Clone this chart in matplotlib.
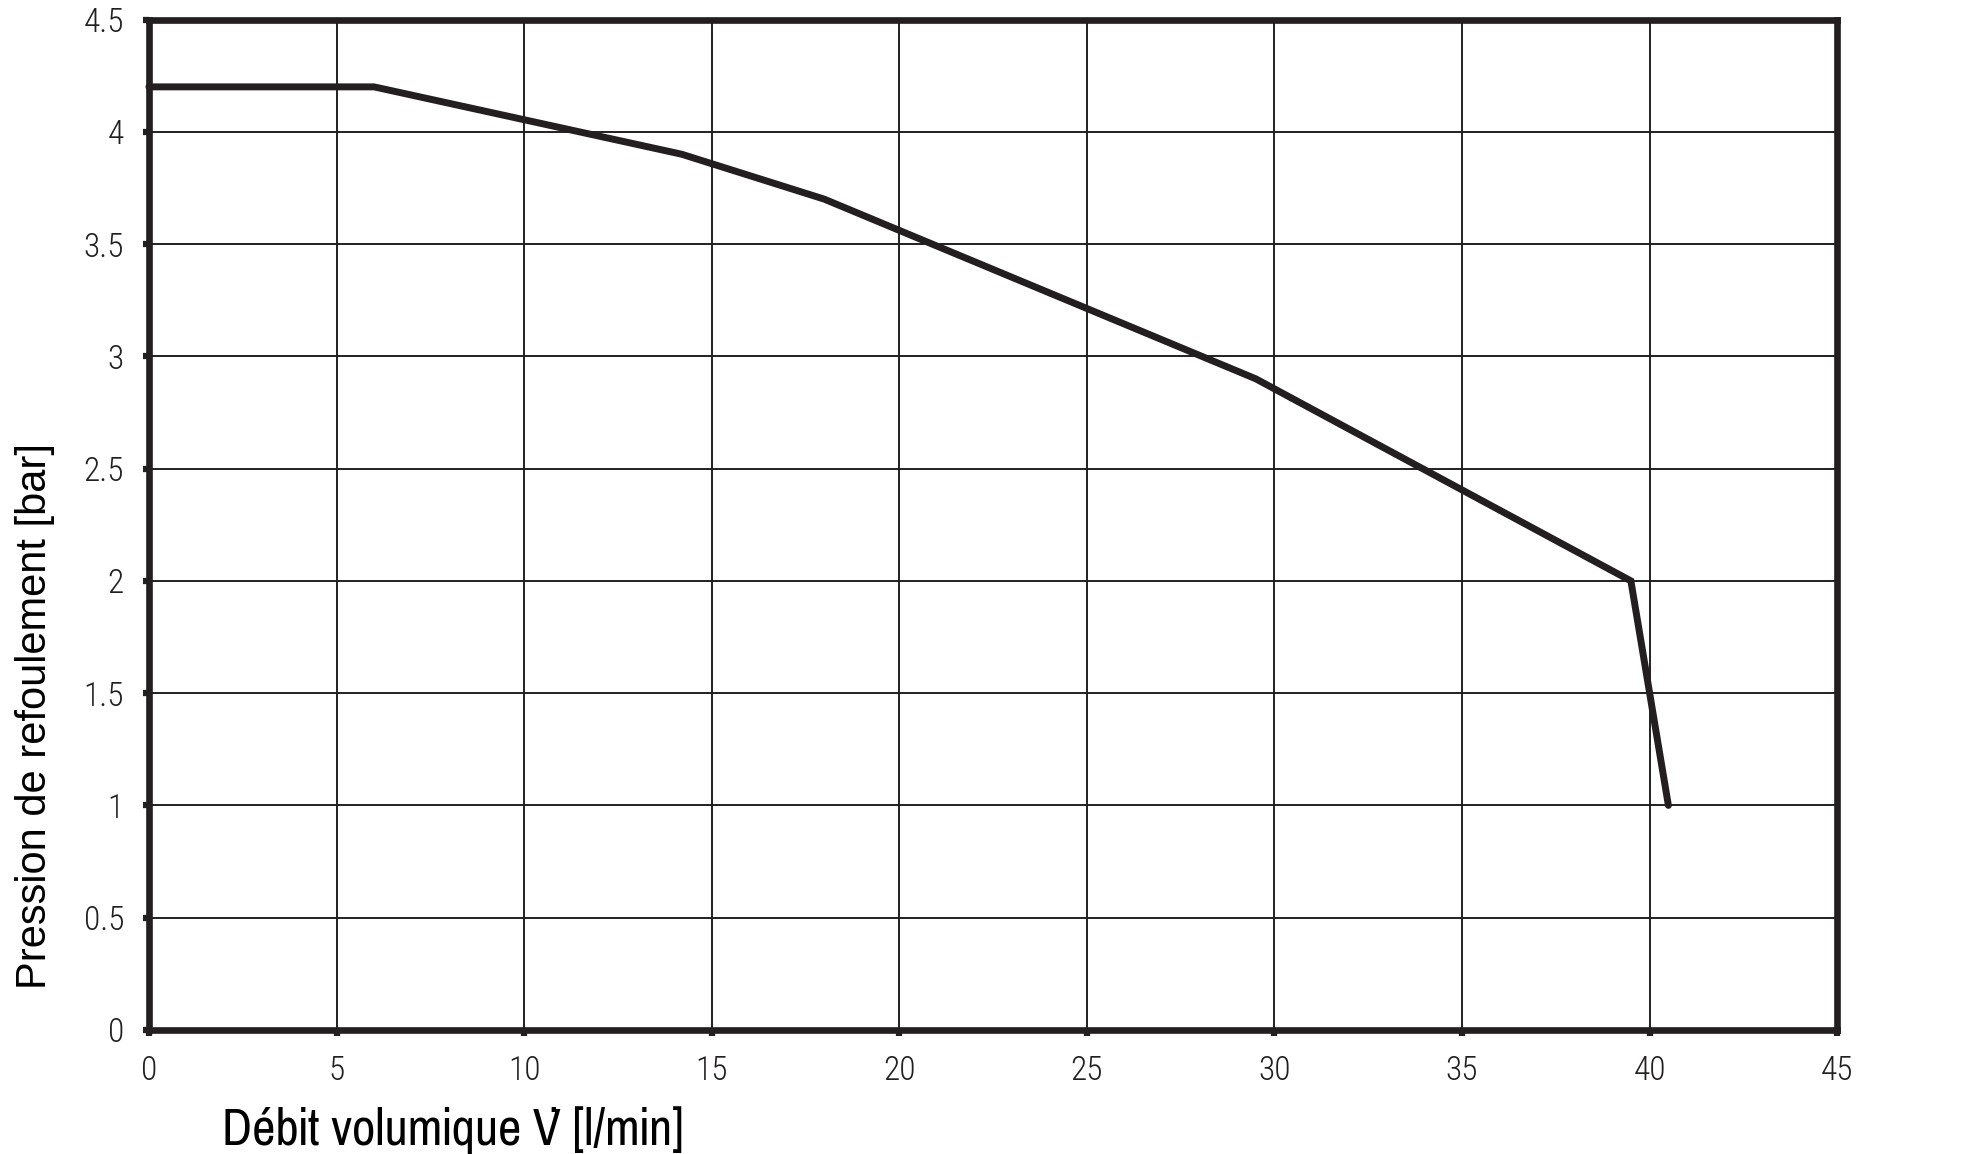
import matplotlib.pyplot as plt

# pump curve: debit (l/min) vs pression (bar)
debit = [0, 6, 14.2, 18, 29.5, 39.5, 40.5]
pression = [4.2, 4.2, 3.9, 3.7, 2.9, 2.0, 1.0]

x_ticks = [0, 5, 10, 15, 20, 25, 30, 35, 40, 45]
y_ticks = [0, 0.5, 1, 1.5, 2, 2.5, 3, 3.5, 4, 4.5]
y_labels = ['0', '0.5', '1', '1.5', '2', '2.5', '3', '3.5', '4', '4.5']

ink = '#231f20'

fig = plt.figure(figsize=(19.7, 11.54), dpi=100)
ax = fig.add_axes([0.0756, 0.1075, 0.857, 0.8756])

ax.plot(debit, pression, color=ink, lw=5, solid_capstyle='round',
        solid_joinstyle='miter', zorder=3, clip_on=False)

ax.set_xlim(0, 45)
ax.set_ylim(0, 4.5)
ax.set_xticks(x_ticks)
ax.set_yticks(y_ticks)
ax.set_xticklabels([str(t) for t in x_ticks])
ax.set_yticklabels(y_labels)

ax.grid(True, color=ink, lw=1.4)
ax.set_axisbelow(True)
for s in ax.spines.values():
    s.set_linewidth(4.8)
    s.set_color(ink)

ax.tick_params(direction='out', length=4, width=4.5, color=ink, pad=14)
for lab in ax.get_xticklabels() + ax.get_yticklabels():
    lab.set_fontfamily(['Roboto Condensed', 'DejaVu Sans'])
    lab.set_fontweight(300)
    lab.set_fontstretch('condensed')
    lab.set_fontsize(24)
    lab.set_color(ink)

fig.text(0.0178, 0.3795, 'Pression de refoulement [bar]', rotation=90,
         ha='center', va='center', fontsize=30,
         family=['Liberation Sans', 'DejaVu Sans'], color='black')
fig.text(0.1125, 0.021, 'Débit volumique V\u0307 [l/min]', ha='left',
         va='center', fontsize=40,
         family=['Pragati Narrow', 'DejaVu Sans'], color='black')

fig.savefig('out.png', dpi=100)
